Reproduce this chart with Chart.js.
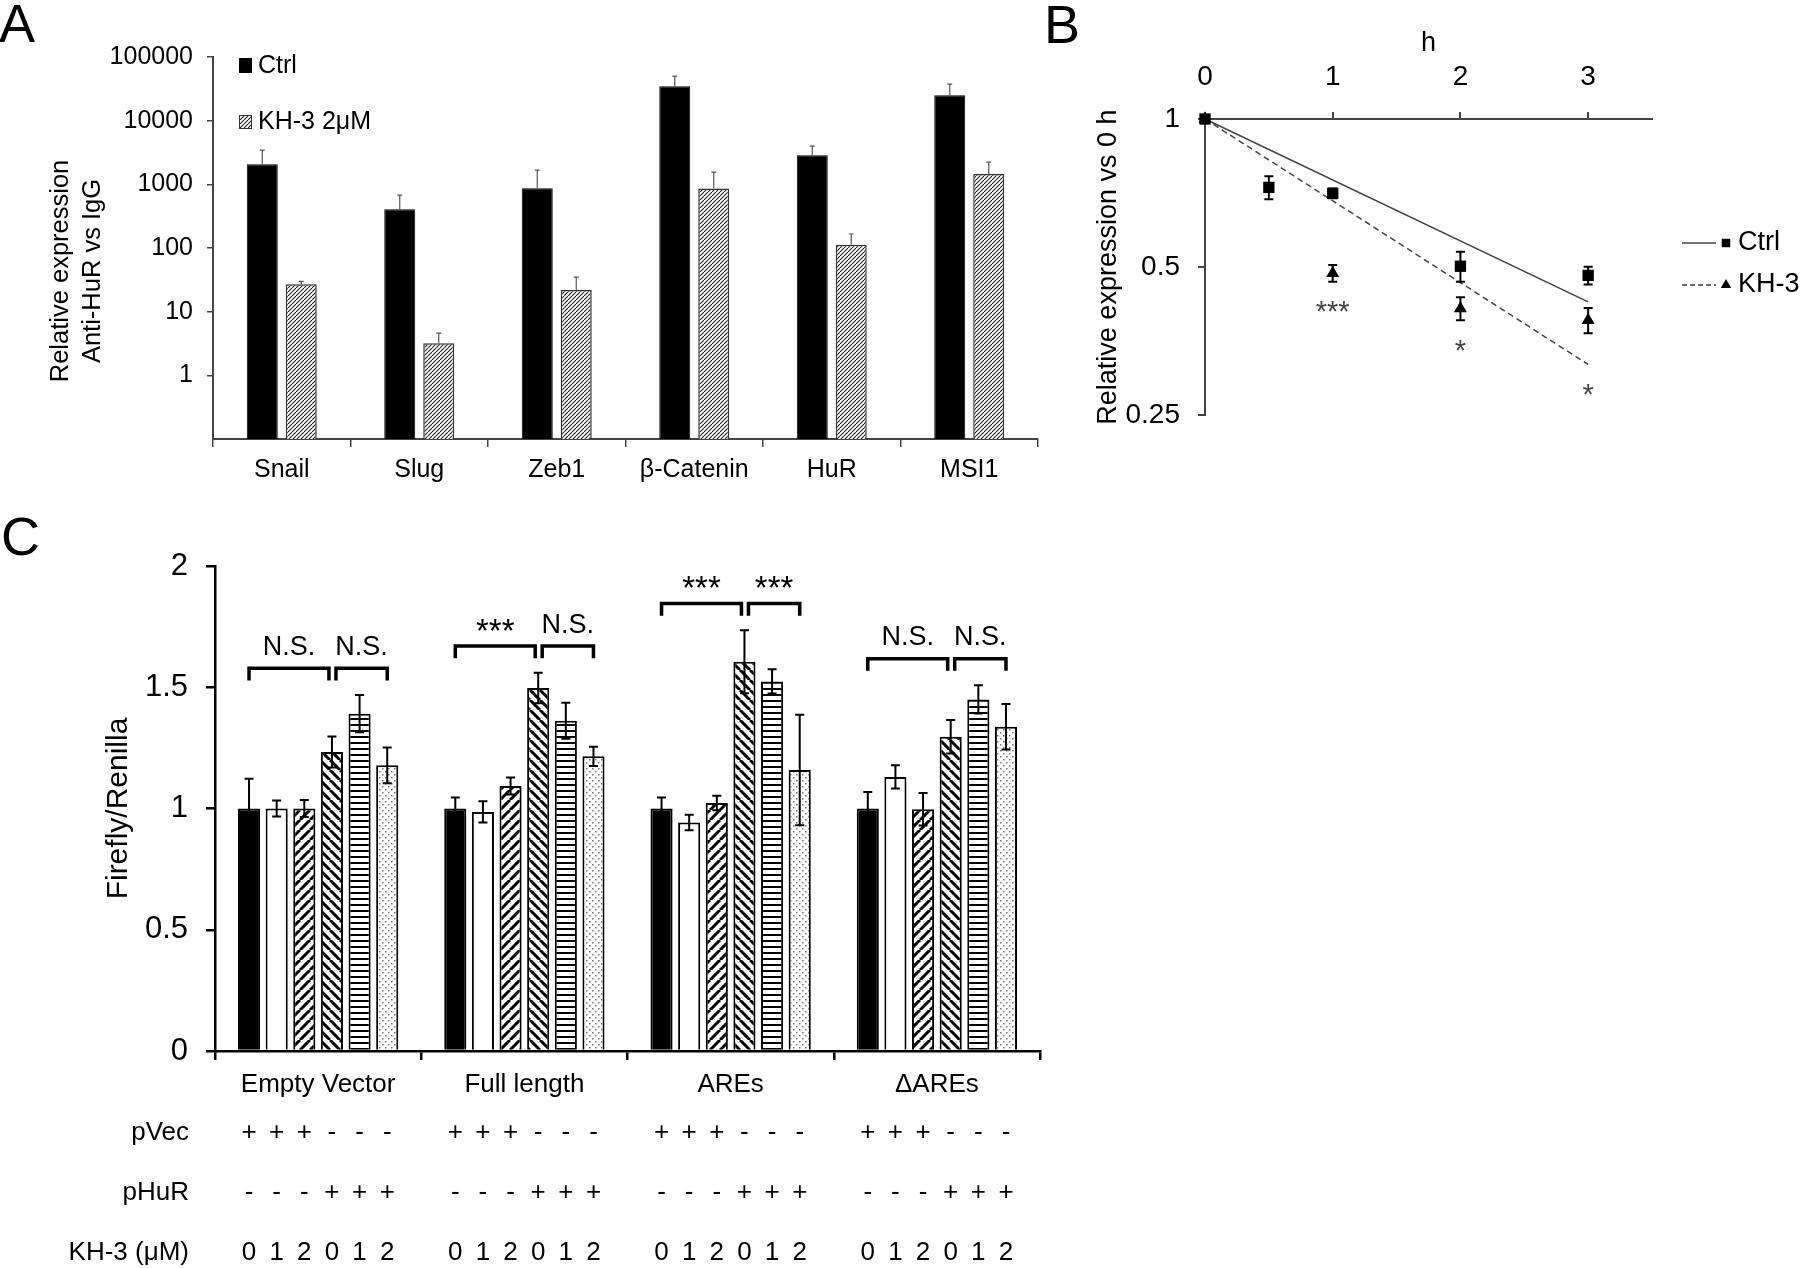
<!DOCTYPE html>
<html>
<head>
<meta charset="utf-8">
<script src="https://cdn.jsdelivr.net/npm/chart.js@4.4.1/dist/chart.umd.min.js"></script>
<style>
  html, body { margin: 0; padding: 0; background: #fff; }
  #figura { position: relative; width: 1800px; height: 1268px; overflow: hidden; }
  .panel { position: absolute; }
</style>
</head>
<body>
<div id="figura">
  <div class="panel" style="left:0;top:0;width:1040px;height:500px"><canvas id="chartA"></canvas></div>
  <div class="panel" style="left:1040px;top:0;width:760px;height:450px"><canvas id="chartB"></canvas></div>
  <div class="panel" style="left:0;top:500px;width:1100px;height:768px"><canvas id="chartC"></canvas></div>
</div>
<script>
// panel A - RIP qPCR
const genes = ['Snail', 'Slug', 'Zeb1', 'β-Catenin', 'HuR', 'MSI1']
const ctrlExpr = [2075, 407, 871, 34700, 2870, 25000]
const ctrlExprErr = [1365, 269, 800, 15300, 1110, 12400]
const kh3Expr = [27, 3.2, 21.8, 860, 112, 1450]
const kh3ExprErr = [3, 1.4, 13, 690, 54, 780]
const ticksA = [1, 10, 100, 1000, 10000, 100000]

// panel B - decay
const ctrlHours = [0, 0.5, 1, 2, 3]
const ctrlRel = [1, 0.726, 0.706, 0.502, 0.481]
const ctrlRelErr = [0, 0.039, 0.016, 0.035, 0.02]
const kh3Hours = [0, 1, 2, 3]
const kh3Rel = [1, 0.486, 0.412, 0.39]
const kh3RelErr = [0, 0.019, 0.022, 0.023]
const fitHours = [0, 3]
const ctrlFit = [1, 0.425]
const kh3Fit = [1, 0.317]
const sigHours = [1, 2, 3]
const sigMarksB = ['***', '*', '*']
const ticksBy = [0.25, 0.5, 1]
const ticksBx = [0, 1, 2, 3]

// panel C - luciferase
const constructs = ['Empty Vector', 'Full length', 'AREs', 'ΔAREs']
const vec0 = [1.00, 1.00, 1.00, 1.00]
const vec1 = [1.00, 0.986, 0.942, 1.13]
const vec2 = [1.00, 1.093, 1.023, 0.997]
const hur0 = [1.233, 1.497, 1.605, 1.296]
const hur1 = [1.391, 1.362, 1.524, 1.45]
const hur2 = [1.178, 1.215, 1.159, 1.337]
const vec0Err = [0.123, 0.045, 0.045, 0.068]
const vec1Err = [0.033, 0.044, 0.032, 0.048]
const vec2Err = [0.035, 0.035, 0.03, 0.067]
const hur0Err = [0.064, 0.063, 0.13, 0.069]
const hur1Err = [0.077, 0.074, 0.05, 0.058]
const hur2Err = [0.074, 0.04, 0.228, 0.094]
const sigLeft = ['N.S.', '***', '***', 'N.S.']
const sigRight = ['N.S.', 'N.S.', '***', 'N.S.']
const pVecRow = ['+', '+', '+', '-', '-', '-']
const pHuRRow = ['-', '-', '-', '+', '+', '+']
const kh3Dose = ['0', '1', '2', '0', '1', '2']

const FAMILIA = '"Liberation Sans", Arial, Helvetica, sans-serif'
Chart.defaults.font.family = FAMILIA
Chart.defaults.color = '#000'

function fuente(px) { return px + 'px ' + FAMILIA }

function patron(tipo) {
  const s = { fina: 4, adelante: 10, atras: 10, horizontal: 6, puntos: 6 }[tipo]
  const c = document.createElement('canvas')
  c.width = s; c.height = s
  const g = c.getContext('2d')
  g.fillStyle = '#fff'
  g.fillRect(0, 0, s, s)
  if (tipo === 'fina' || tipo === 'adelante') {
    g.strokeStyle = tipo === 'fina' ? '#222' : '#000'
    g.lineWidth = tipo === 'fina' ? 1.1 : 3
    g.beginPath()
    for (const o of [-s, 0, s]) { g.moveTo(o, s); g.lineTo(o + s, 0) }
    g.stroke()
  } else if (tipo === 'atras') {
    g.strokeStyle = '#000'
    g.lineWidth = 3
    g.beginPath()
    for (const o of [-s, 0, s]) { g.moveTo(o, 0); g.lineTo(o + s, s) }
    g.stroke()
  } else if (tipo === 'horizontal') {
    g.fillStyle = '#000'
    g.fillRect(0, 2, s, 2)
  } else if (tipo === 'puntos') {
    g.fillStyle = '#777'
    g.fillRect(1, 1, 1.5, 1.5)
    g.fillRect(4, 4, 1.5, 1.5)
  }
  return g.createPattern(c, 'repeat')
}

const errorBars = {
  id: 'errorBars',
  afterDatasetsDraw(chart, args, opts) {
    const ctx = chart.ctx
    const y = chart.scales.y
    chart.data.datasets.forEach((ds, di) => {
      if (!ds.errors) return
      const meta = chart.getDatasetMeta(di)
      ctx.save()
      ctx.strokeStyle = opts.color
      ctx.lineWidth = opts.width
      meta.data.forEach((el, i) => {
        const err = ds.errors[i]
        if (!err) return
        const v = typeof ds.data[i] === 'object' ? ds.data[i].y : ds.data[i]
        const top = y.getPixelForValue(v + err)
        const bot = opts.upOnly ? el.y : y.getPixelForValue(v - err)
        ctx.beginPath()
        ctx.moveTo(el.x, bot); ctx.lineTo(el.x, top)
        ctx.moveTo(el.x - opts.cap, top); ctx.lineTo(el.x + opts.cap, top)
        if (!opts.upOnly) { ctx.moveTo(el.x - opts.cap, bot); ctx.lineTo(el.x + opts.cap, bot) }
        ctx.stroke()
      })
      ctx.restore()
    })
  }
}

function letra(l, x, y) {
  return {
    id: 'letra' + l,
    afterDraw(chart) {
      const ctx = chart.ctx
      ctx.save()
      ctx.font = fuente(54)
      ctx.fillStyle = '#000'
      ctx.textBaseline = 'alphabetic'
      ctx.fillText(l, x, y)
      ctx.restore()
    }
  }
}

// ---------- A ----------
const rayasFinas = patron('fina')

const extrasA = {
  id: 'extrasA',
  afterDraw(chart) {
    const ctx = chart.ctx
    const a = chart.chartArea
    ctx.save()
    // leyenda
    ctx.fillStyle = '#000'
    ctx.fillRect(a.left + 26, a.top + 1, 13, 15)
    ctx.fillStyle = rayasFinas
    ctx.fillRect(a.left + 26, a.top + 58, 13, 14)
    ctx.strokeStyle = '#333'
    ctx.lineWidth = 1
    ctx.strokeRect(a.left + 26.5, a.top + 58.5, 12, 13)
    ctx.fillStyle = '#000'
    ctx.font = fuente(25)
    ctx.textBaseline = 'middle'
    ctx.fillText('Ctrl', a.left + 45, a.top + 9)
    ctx.fillText('KH-3 2μM', a.left + 45, a.top + 65)
    // titulo eje y
    ctx.translate(0, 271)
    ctx.rotate(-Math.PI / 2)
    ctx.textAlign = 'center'
    ctx.font = fuente(25.5)
    ctx.fillText('Relative expression', 0, 61)
    ctx.fillText('Anti-HuR vs IgG', 0, 93)
    ctx.restore()
  }
}

new Chart(document.getElementById('chartA'), {
  type: 'bar',
  data: {
    labels: genes,
    datasets: [{
      label: 'Ctrl',
      data: ctrlExpr,
      errors: ctrlExprErr,
      backgroundColor: '#000',
      borderColor: '#000',
      borderWidth: 1
    }, {
      label: 'KH-3 2μM',
      data: kh3Expr,
      errors: kh3ExprErr,
      backgroundColor: rayasFinas,
      borderColor: '#333',
      borderWidth: 1.5
    }]
  },
  options: {
    responsive: true,
    maintainAspectRatio: false,
    animation: false,
    devicePixelRatio: 1,
    categoryPercentage: 0.567,
    barPercentage: 0.795,
    layout: { padding: { top: 57, right: 2, bottom: 0, left: 0 } },
    plugins: {
      legend: { display: false },
      tooltip: { enabled: false },
      errorBars: { color: '#555', width: 1.2, cap: 2.5, upOnly: true }
    },
    scales: {
      x: {
        grid: { offset: true, drawOnChartArea: false, tickLength: 8, color: '#444', lineWidth: 1.5 },
        border: { color: '#444', width: 2 },
        ticks: { font: { size: 25 }, color: '#000', padding: 8, autoSkip: false, maxRotation: 0 },
        afterFit: s => { s.height = 61 }
      },
      y: {
        type: 'logarithmic',
        min: 0.1,
        max: 100000,
        grid: { drawOnChartArea: false, tickLength: 6, color: '#444', lineWidth: 1.5 },
        border: { color: '#444', width: 2 },
        ticks: { font: { size: 25 }, color: '#000', padding: 14, callback: v => String(v) },
        afterBuildTicks: s => { s.ticks = ticksA.map(v => ({ value: v })) },
        afterFit: s => { s.width = 213 }
      }
    }
  },
  plugins: [errorBars, extrasA, letra('A', -1, 42)]
})

// ---------- B ----------
const extrasB = {
  id: 'extrasB',
  afterDraw(chart) {
    const ctx = chart.ctx
    const y = chart.scales.y
    const x = chart.scales.x
    ctx.save()
    ctx.fillStyle = '#444'
    ctx.font = fuente(29)
    ctx.textAlign = 'center'
    ctx.textBaseline = 'alphabetic'
    sigHours.forEach((h, i) => {
      const k = kh3Hours.indexOf(h)
      const bajo = y.getPixelForValue(kh3Rel[k] - kh3RelErr[k])
      const ajuste = y.getPixelForValue(kh3Fit[0] * Math.pow(kh3Fit[1] / kh3Fit[0], h / fitHours[1]))
      const centro = Math.max(bajo, ajuste) + 23
      ctx.fillText(sigMarksB[i], x.getPixelForValue(h), centro + 0.57 * 29)
    })
    // leyenda
    const lx = chart.chartArea.right + 30
    const filas = [[243, [], 'rect', 'Ctrl'], [285, [5, 3], 'triangle', 'KH-3']]
    filas.forEach(([fy, dash, estilo, texto]) => {
      ctx.strokeStyle = '#444'
      ctx.lineWidth = 1.5
      ctx.setLineDash(dash)
      ctx.beginPath()
      ctx.moveTo(lx, fy); ctx.lineTo(lx + 34, fy)
      ctx.stroke()
      ctx.setLineDash([])
      ctx.fillStyle = '#000'
      ctx.strokeStyle = '#000'
      Chart.helpers.drawPoint(ctx, { pointStyle: estilo, radius: 6, rotation: 0, borderWidth: 0 }, lx + 44, fy)
      ctx.font = fuente(27)
      ctx.textAlign = 'left'
      ctx.textBaseline = 'middle'
      ctx.fillText(texto, lx + 56, fy)
    })
    ctx.restore()
  }
}

new Chart(document.getElementById('chartB'), {
  type: 'scatter',
  data: {
    datasets: [{
      label: 'Ctrl',
      data: ctrlHours.map((h, i) => ({ x: h, y: ctrlRel[i] })),
      errors: ctrlRelErr,
      pointStyle: 'rect',
      pointRadius: 8,
      backgroundColor: '#000',
      borderColor: '#000',
      borderWidth: 0,
      clip: false
    }, {
      label: 'KH-3',
      data: kh3Hours.map((h, i) => ({ x: h, y: kh3Rel[i] })),
      errors: kh3RelErr,
      pointStyle: 'triangle',
      pointRadius: 7.5,
      backgroundColor: '#000',
      borderColor: '#000',
      borderWidth: 0,
      clip: false
    }, {
      label: 'Ctrl fit',
      data: fitHours.map((h, i) => ({ x: h, y: ctrlFit[i] })),
      showLine: true,
      pointRadius: 0,
      borderColor: '#444',
      borderWidth: 1.5,
      clip: false
    }, {
      label: 'KH-3 fit',
      data: fitHours.map((h, i) => ({ x: h, y: kh3Fit[i] })),
      showLine: true,
      pointRadius: 0,
      borderColor: '#444',
      borderWidth: 1.5,
      borderDash: [6, 4],
      clip: false
    }]
  },
  options: {
    responsive: true,
    maintainAspectRatio: false,
    animation: false,
    devicePixelRatio: 1,
    layout: { padding: { top: 0, right: 148, bottom: 20, left: 0 } },
    plugins: {
      legend: { display: false },
      tooltip: { enabled: false },
      errorBars: { color: '#000', width: 2, cap: 4.5 }
    },
    scales: {
      x: {
        type: 'linear',
        position: 'top',
        min: 0,
        max: 3.5,
        grid: { drawOnChartArea: false, tickLength: 7, color: '#444', lineWidth: 2 },
        border: { color: '#444', width: 2 },
        ticks: { font: { size: 28 }, color: '#000', padding: 18, callback: v => String(v) },
        title: { display: true, text: 'h', font: { size: 27 }, color: '#000', padding: { top: 27, bottom: 0 } },
        afterBuildTicks: s => { s.ticks = ticksBx.map(v => ({ value: v })) },
        afterFit: s => { s.height = 119 }
      },
      y: {
        type: 'logarithmic',
        min: 0.25,
        max: 1,
        grid: { drawOnChartArea: false, tickLength: 7, color: '#444', lineWidth: 2 },
        border: { color: '#444', width: 2 },
        ticks: { font: { size: 28 }, color: '#000', padding: 18, callback: v => String(v) },
        title: { display: true, text: 'Relative expression vs 0 h', font: { size: 27 }, color: '#000', padding: { top: 52, bottom: 0 } },
        afterBuildTicks: s => { s.ticks = ticksBy.map(v => ({ value: v })) },
        afterFit: s => { s.width = 165 }
      }
    }
  },
  plugins: [errorBars, extrasB, letra('B', 4, 43)]
})

// ---------- C ----------
const extrasC = {
  id: 'extrasC',
  afterDraw(chart) {
    const ctx = chart.ctx
    const y = chart.scales.y
    const a = chart.chartArea
    const sets = chart.data.datasets
    ctx.save()
    ctx.strokeStyle = '#000'
    ctx.fillStyle = '#000'
    ctx.lineWidth = 3.5
    ctx.textAlign = 'center'
    constructs.forEach((c, i) => {
      const barras = sets.map((ds, d) => chart.getDatasetMeta(d).data[i])
      let tope = 0
      sets.forEach(ds => { tope = Math.max(tope, ds.data[i] + ds.errors[i]) })
      const yb = y.getPixelForValue(tope + 0.11)
      const pata = y.getPixelForValue(tope + 0.06)
      const tramos = [[barras[0].x, barras[3].x - 3, sigLeft[i]], [barras[3].x + 4, barras[5].x, sigRight[i]]]
      tramos.forEach(([x1, x2, t]) => {
        ctx.beginPath()
        ctx.moveTo(x1, pata); ctx.lineTo(x1, yb); ctx.lineTo(x2, yb); ctx.lineTo(x2, pata)
        ctx.stroke()
        const estrella = t === '***'
        const fs = estrella ? 33 : 27
        ctx.font = fuente(fs)
        ctx.textBaseline = 'alphabetic'
        ctx.fillText(t, (x1 + x2) / 2, yb - 23 + (estrella ? 0.57 : 0.358) * fs)
      })
    })
    // filas de condiciones
    const filas = [['pVec', pVecRow, 82], ['pHuR', pHuRRow, 142], ['KH-3 (μM)', kh3Dose, 202]]
    ctx.font = fuente(26)
    ctx.textBaseline = 'middle'
    filas.forEach(([nombre, valores, dy]) => {
      ctx.textAlign = 'right'
      ctx.fillText(nombre, a.left - 26, a.bottom + dy)
      ctx.textAlign = 'center'
      constructs.forEach((c, i) => {
        sets.forEach((ds, d) => {
          ctx.fillText(valores[d], chart.getDatasetMeta(d).data[i].x, a.bottom + dy)
        })
      })
    })
    ctx.restore()
  }
}

const fondosC = ['#000', '#fff', patron('adelante'), patron('atras'), patron('horizontal'), patron('puntos')]
const valoresC = [vec0, vec1, vec2, hur0, hur1, hur2]
const erroresC = [vec0Err, vec1Err, vec2Err, hur0Err, hur1Err, hur2Err]
const nombresC = ['pVec 0', 'pVec 1', 'pVec 2', 'pHuR 0', 'pHuR 1', 'pHuR 2']

new Chart(document.getElementById('chartC'), {
  type: 'bar',
  data: {
    labels: constructs,
    datasets: valoresC.map((v, d) => ({
      label: nombresC[d],
      data: v,
      errors: erroresC[d],
      backgroundColor: fondosC[d],
      borderColor: '#000',
      borderWidth: 2
    }))
  },
  options: {
    responsive: true,
    maintainAspectRatio: false,
    animation: false,
    devicePixelRatio: 1,
    categoryPercentage: 0.804,
    barPercentage: 0.8,
    layout: { padding: { top: 66, right: 60, bottom: 0, left: 0 } },
    plugins: {
      legend: { display: false },
      tooltip: { enabled: false },
      errorBars: { color: '#000', width: 2, cap: 4.5 }
    },
    scales: {
      x: {
        grid: { offset: true, drawOnChartArea: false, tickLength: 9, color: '#000', lineWidth: 2.5 },
        border: { color: '#000', width: 2.5 },
        ticks: { font: { size: 26 }, color: '#000', padding: 9, autoSkip: false, maxRotation: 0 },
        afterFit: s => { s.height = 217 }
      },
      y: {
        min: 0,
        max: 2,
        grid: { drawOnChartArea: false, tickLength: 9, color: '#000', lineWidth: 2.5 },
        border: { color: '#000', width: 2.5 },
        ticks: { stepSize: 0.5, font: { size: 31 }, color: '#000', padding: 18, callback: v => String(v) },
        title: { display: true, text: 'Firefly/Renilla', font: { size: 30 }, color: '#000', padding: { top: 101, bottom: 0 } },
        afterFit: s => { s.width = 215 }
      }
    }
  },
  plugins: [errorBars, extrasC, letra('C', 1, 55)]
})
</script>
</body>
</html>
